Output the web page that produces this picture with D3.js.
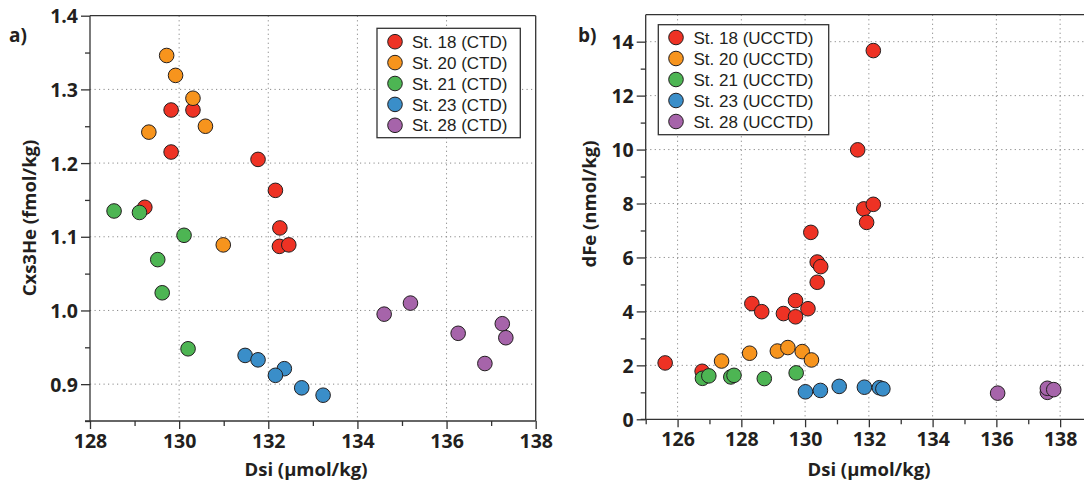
<!DOCTYPE html>
<html>
<head>
<meta charset="utf-8">
<script src="https://cdn.jsdelivr.net/npm/d3@7"></script>
<style>
  html, body { margin: 0; padding: 0; background: #fff; }
  svg { display: block; }
  .tick text { font-family: "Open Sans", sans-serif; font-weight: 700; font-size: 19.5px; fill: #231f20; }
  .axis path, .axis line { stroke: #333; stroke-width: 1.3; }
</style>
</head>
<body>
<svg id="chart" width="1084" height="484"></svg>
<script>
// ---------- Data ----------
const seriesColors = ["#ee3224", "#f7941d", "#4db553", "#3a8ec9", "#a664aa"];

const legendA = ["St. 18 (CTD)", "St. 20 (CTD)", "St. 21 (CTD)", "St. 23 (CTD)", "St. 28 (CTD)"];
const legendB = ["St. 18 (UCCTD)", "St. 20 (UCCTD)", "St. 21 (UCCTD)", "St. 23 (UCCTD)", "St. 28 (UCCTD)"];

// Panel a: [Dsi, Cxs3He]
const a_st18 = [[129.82,1.272],[130.31,1.272],[129.82,1.215],[131.77,1.205],[132.16,1.163],[129.23,1.140],[132.26,1.112],[132.25,1.087],[132.46,1.089]];
const a_st20 = [[129.72,1.346],[129.92,1.319],[130.31,1.288],[129.32,1.242],[130.59,1.250],[130.99,1.089]];
const a_st21 = [[128.54,1.135],[129.11,1.133],[130.11,1.102],[129.52,1.069],[129.62,1.024],[130.20,0.948]];
const a_st23 = [[131.48,0.939],[131.77,0.933],[132.36,0.921],[132.16,0.912],[132.75,0.895],[133.23,0.885]];
const a_st28 = [[134.60,0.995],[135.19,1.010],[136.26,0.969],[137.25,0.982],[137.33,0.963],[136.86,0.928]];

// Panel b: [Dsi, dFe]
const b_st18 = [[125.61,2.09],[126.77,1.78],[128.33,4.29],[128.64,3.99],[129.32,3.92],[129.70,4.40],[129.70,3.80],[130.09,4.10],[130.18,6.93],[130.38,5.83],[130.49,5.66],[130.38,5.08],[131.65,9.99],[131.84,7.80],[132.14,7.97],[131.93,7.30],[132.14,13.67]];
const b_st20 = [[127.38,2.16],[128.26,2.45],[129.13,2.53],[129.46,2.66],[129.91,2.51],[130.20,2.20]];
const b_st21 = [[126.78,1.52],[126.98,1.61],[127.67,1.57],[127.77,1.63],[128.72,1.51],[129.72,1.72]];
const b_st23 = [[130.01,1.02],[130.48,1.07],[131.07,1.22],[131.86,1.19],[132.33,1.17],[132.44,1.13]];
const b_st28 = [[136.04,0.97],[137.60,1.00],[137.60,1.15],[137.80,1.10]];

// Axes / ticks
const aXDomain = [128, 138], aYDomain = [0.85, 1.4];
const aXTicks = [128, 130, 132, 134, 136, 138];
const aXMinor = [129, 131, 133, 135, 137];
const aYTicks = [0.9, 1.0, 1.1, 1.2, 1.3, 1.4];
const aYTickLabels = ["0.9", "1.0", "1.1", "1.2", "1.3", "1.4"];
const aYMinor = [0.85, 0.95, 1.05, 1.15, 1.25, 1.35];

const bXDomain = [125, 139], bYDomain = [0, 15];
const bXTicks = [126, 128, 130, 132, 134, 136, 138];
const bXMinor = [125, 127, 129, 131, 133, 135, 137, 139];
const bYTicks = [0, 2, 4, 6, 8, 10, 12, 14];
const bYMinor = [1, 3, 5, 7, 9, 11, 13];

const aXTitle = "Dsi (µmol/kg)", aYTitle = "Cxs3He (fmol/kg)";
const bXTitle = "Dsi (µmol/kg)", bYTitle = "dFe (nmol/kg)";

// ---------- Drawing ----------
const svg = d3.select("#chart");
const FONT_B = '"Open Sans", sans-serif';
const FONT_L = '"Liberation Sans", Arial, sans-serif';

function panel(cfg) {
  const g = svg.append("g");
  const x = d3.scaleLinear().domain(cfg.xDomain).range([cfg.left, cfg.right]);
  const y = d3.scaleLinear().domain(cfg.yDomain).range([cfg.bottom, cfg.top]);

  // grid
  const grid = g.append("g").attr("stroke", "#8a8a8a").attr("stroke-width", 1).attr("stroke-dasharray", "1.2,3.3");
  grid.selectAll(".gx").data(cfg.xGrid).join("line")
    .attr("x1", d => x(d)).attr("x2", d => x(d)).attr("y1", cfg.top).attr("y2", cfg.bottom);
  grid.selectAll(".gy").data(cfg.yGrid).join("line")
    .attr("y1", d => y(d)).attr("y2", d => y(d)).attr("x1", cfg.left).attr("x2", cfg.right);

  // frame top/right
  g.append("line").attr("x1", cfg.left).attr("x2", cfg.right).attr("y1", cfg.top).attr("y2", cfg.top)
    .attr("stroke", "#333").attr("stroke-width", 1.3);
  g.append("line").attr("x1", cfg.right).attr("x2", cfg.right).attr("y1", cfg.top).attr("y2", cfg.bottom)
    .attr("stroke", "#333").attr("stroke-width", 1.3);

  // minor axes
  g.append("g").attr("class", "axis").attr("transform", `translate(0,${cfg.bottom})`)
    .call(d3.axisBottom(x).tickValues(cfg.xMinor).tickSize(5).tickSizeOuter(0).tickFormat(""))
    .call(s => s.select(".domain").remove());
  g.append("g").attr("class", "axis").attr("transform", `translate(${cfg.left},0)`)
    .call(d3.axisLeft(y).tickValues(cfg.yMinor).tickSize(5).tickSizeOuter(0).tickFormat(""))
    .call(s => s.select(".domain").remove());

  // major axes
  const xa = g.append("g").attr("class", "axis").attr("transform", `translate(0,${cfg.bottom})`)
    .call(d3.axisBottom(x).tickValues(cfg.xTicks).tickSize(8).tickSizeOuter(0).tickPadding(5).tickFormat(d3.format("d")));
  xa.select(".domain").attr("d", `M${cfg.left - 5},0H${cfg.right}`);
  const ya = g.append("g").attr("class", "axis").attr("transform", `translate(${cfg.left},0)`)
    .call(d3.axisLeft(y).tickValues(cfg.yTicks).tickSize(9).tickSizeOuter(0).tickPadding(3)
      .tickFormat((d, i) => cfg.yLabels ? cfg.yLabels[i] : d));
  ya.select(".domain").attr("d", `M0,${cfg.bottom}V${cfg.top}`);
  ya.selectAll(".tick text").attr("dy", "0.36em");

  // titles
  g.append("text").attr("x", cfg.xTitleX).attr("y", 476)
    .attr("text-anchor", "middle").attr("font-family", FONT_B).attr("font-weight", 700)
    .attr("font-size", 18.5).attr("fill", "#231f20").text(cfg.xTitle);
  g.append("text").attr("transform", `translate(${cfg.yTitleX},${cfg.yTitleY}) rotate(-90)`)
    .attr("text-anchor", "middle").attr("font-family", FONT_B).attr("font-weight", 700)
    .attr("font-size", 18.5).attr("fill", "#231f20").text(cfg.yTitle);
  g.append("text").attr("x", cfg.tagX).attr("y", cfg.tagY)
    .attr("font-family", FONT_B).attr("font-weight", 700)
    .attr("font-size", 19).attr("fill", "#231f20").text(cfg.tag);

  // points
  cfg.series.forEach((pts, si) => {
    g.append("g").selectAll("circle").data(pts).join("circle")
      .attr("cx", d => x(d[0])).attr("cy", d => y(d[1])).attr("r", 7.3)
      .attr("fill", seriesColors[si]).attr("stroke", "#231f20").attr("stroke-width", 1);
  });

  // legend
  const L = cfg.legend;
  const lg = g.append("g");
  lg.append("rect").attr("x", L.x).attr("y", L.y).attr("width", L.w).attr("height", L.h)
    .attr("fill", "#fff").attr("stroke", "#333").attr("stroke-width", 1.3);
  cfg.legendLabels.forEach((lab, i) => {
    const cy = L.row0 + i * L.dy;
    lg.append("circle").attr("cx", L.cx).attr("cy", cy).attr("r", 7.3)
      .attr("fill", seriesColors[i]).attr("stroke", "#231f20").attr("stroke-width", 1);
    lg.append("text").attr("x", L.tx).attr("y", cy).attr("dy", "0.36em")
      .attr("font-family", FONT_L).attr("font-size", 17).attr("fill", "#231f20").text(lab);
  });
}

panel({
  left: 90, right: 535.7, top: 15.7, bottom: 421,
  xDomain: aXDomain, yDomain: aYDomain,
  xTicks: aXTicks, xMinor: aXMinor, yTicks: aYTicks, yMinor: aYMinor, yLabels: aYTickLabels,
  xGrid: aXTicks.slice(1, -1), yGrid: aYTicks.slice(0, -1),
  xTitle: aXTitle, yTitle: aYTitle, xTitleX: 306, yTitleX: 36, yTitleY: 218,
  tag: "a)", tagX: 9, tagY: 42,
  series: [a_st18, a_st20, a_st21, a_st23, a_st28],
  legendLabels: legendA,
  legend: { x: 377, y: 28.3, w: 143.3, h: 109.4, cx: 395, tx: 412, row0: 41.7, dy: 20.9 }
});

panel({
  left: 645.7, right: 1092, top: 14.7, bottom: 419.3,
  xDomain: bXDomain, yDomain: bYDomain,
  xTicks: bXTicks, xMinor: bXMinor, yTicks: bYTicks, yMinor: bYMinor, yLabels: null,
  xGrid: bXTicks, yGrid: bYTicks.slice(1),
  xTitle: bXTitle, yTitle: bYTitle, xTitleX: 869, yTitleX: 596, yTitleY: 204,
  tag: "b)", tagX: 578, tagY: 42,
  series: [b_st18, b_st20, b_st21, b_st23, b_st28],
  legendLabels: legendB,
  legend: { x: 658.3, y: 24.7, w: 170.4, h: 110, cx: 676, tx: 693.5, row0: 37.5, dy: 21 }
});
</script>
</body>
</html>
